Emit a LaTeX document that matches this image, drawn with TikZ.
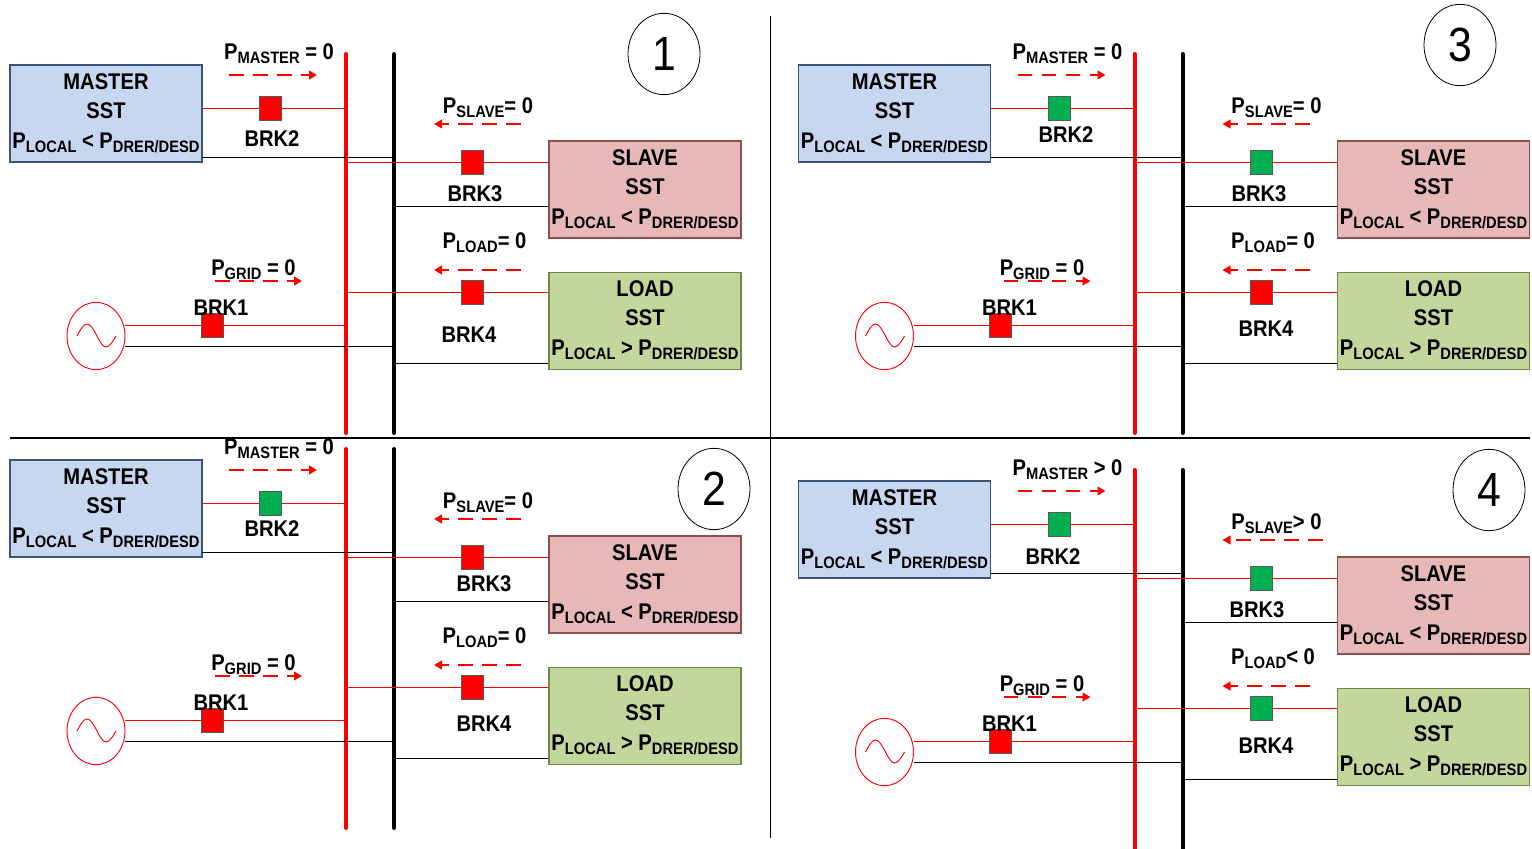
\documentclass[tikz,border=0pt]{standalone}
\usepackage{fontspec}
\setmainfont[FakeStretch=0.89]{Liberation Sans}
\usetikzlibrary{arrows.meta,positioning,shapes.geometric}
\definecolor{mstfill}{HTML}{C6D7EF}
\definecolor{mstline}{HTML}{3A5578}
\definecolor{slvfill}{HTML}{E6B8B7}
\definecolor{slvline}{HTML}{8C4F4D}
\definecolor{lodfill}{HTML}{C3D69B}
\definecolor{lodline}{HTML}{6F8A45}
\definecolor{brkred}{HTML}{FF0000}
\definecolor{brkgreen}{HTML}{00B050}
\newcommand{\pwr}[1]{P\raisebox{-3pt}{\fontsize{12.4}{14}\selectfont #1}}
\tikzset{
  sstbox/.style={rectangle,line width=0.8pt,minimum width=144pt,minimum height=72.75pt,inner sep=0pt,align=center,font=\bfseries\fontsize{17}{21.5}\selectfont},
  brk/.style={rectangle,draw=black!65,line width=0.6pt,inner sep=0pt,minimum width=16.5pt,minimum height=18pt},
  txt/.style={inner sep=0pt,font=\bfseries\fontsize{17}{20}\selectfont},
  redbus/.style={brkred,line width=3pt,line cap=round},
  blkbus/.style={black,line width=3pt,line cap=round},
  redwire/.style={brkred,line width=0.7pt},
  blkwire/.style={black,line width=0.7pt},
  flow/.style={-{Triangle[length=6pt,width=6.5pt]},brkred,line width=2.2pt,dash pattern=on 11pt off 7pt},
}
\begin{document}
\begin{tikzpicture}[x=0.75pt,y=-0.75pt]
\useasboundingbox (0,0) rectangle (1532,849);
\coordinate (vtop) at (770,16);
\coordinate (vbot) at (770,838);
\coordinate (hlft) at (10,438);
\coordinate (hrgt) at (1530,438);
\draw[black,line width=0.6pt] (vtop) -- (vbot);
\draw[black,line width=0.8pt] (hlft) -- (hrgt);
\foreach \n/\dx/\dy/\numx/\numy/\colb/\colc/\cold/\lblb/\lblc/\lbld/\mrel/\srel/\lrel/\stail in {
  {1/0/0/664/54/brkred/brkred/brkred/(272,139)/(475,194)/(469,335)/=/=/=/521},
  {2/0/395/714/94/brkgreen/brkred/brkred/(272,134)/(484,189)/(484,329)/=/=/=/521},
  {3/788.5/0/671.5/45/brkgreen/brkgreen/brkred/(277.5,135)/(470.5,194)/(477.5,329)/=/=/=/521},
  {4/788.5/416/700.5/74/brkgreen/brkgreen/brkgreen/(264.5,141)/(468.5,194)/(477.5,330)/>/>/</534.5}}
{
\begin{scope}[shift={(\dx,\dy)},name prefix=p\n-]
% buses
\coordinate (rtop) at (346,54);
\coordinate (rbot) at (346,433);
\coordinate (btop) at (394,54);
\coordinate (bbot) at (394,433);
\draw[redbus] (rtop) -- (rbot);
\draw[blkbus] (btop) -- (bbot);
% boxes
\node[sstbox,draw=mstline,fill=mstfill] (mst) at (106,113.5) {MASTER\\SST\\[1.5pt]\pwr{LOCAL} < \pwr{DRER/DESD}};
\node[sstbox,draw=slvline,fill=slvfill] (slv) at (645,189.5) {SLAVE\\SST\\[1.5pt]\pwr{LOCAL} < \pwr{DRER/DESD}};
\node[sstbox,draw=lodline,fill=lodfill,below=24.75pt of slv] (lod) {LOAD\\SST\\[1.5pt]\pwr{LOCAL} > \pwr{DRER/DESD}};
% source
\node[ellipse,draw=brkred,line width=0.7pt,inner sep=0pt,minimum width=43.5pt,minimum height=50.5pt] (gen) at (96,336) {};
\draw[brkred,line width=0.7pt] (77,336) sin (87,324) cos (97,336) sin (106,347) cos (116,336);
% breakers
\node[brk,fill=brkred] (brk1) at (212,325) {};
\node[brk,fill=\colb] (brk2) at (270.5,108) {};
\node[brk,fill=\colc] (brk3) at (472.5,162) {};
\node[brk,fill=\cold] (brk4) at (472.5,292) {};
\node[txt] (lbl1) at (221,308) {BRK1};
\node[txt] (lbl2) at \lblb {BRK2};
\node[txt] (lbl3) at \lblc {BRK3};
\node[txt] (lbl4) at \lbld {BRK4};
% wires
\coordinate (mblk) at (202,157);
\coordinate (sblk) at (548,206);
\coordinate (lblk) at (548,363);
\coordinate (gblk) at (125,346);
\draw[redwire] (mst.east |- brk2) -- (brk2);
\draw[redwire] (brk2) -- (brk2 -| rtop);
\draw[redwire] (brk3 -| rtop) -- (brk3);
\draw[redwire] (brk3) -- (brk3 -| slv.west);
\draw[redwire] (brk4 -| rtop) -- (brk4);
\draw[redwire] (brk4) -- (brk4 -| lod.west);
\draw[redwire] (gen.east |- brk1) -- (brk1);
\draw[redwire] (brk1) -- (brk1 -| rtop);
\draw[blkwire] (mblk) -- (mblk -| btop);
\draw[blkwire] (gblk) -- (gblk -| btop);
\draw[blkwire] (sblk) -- (sblk -| btop);
\draw[blkwire] (lblk) -- (lblk -| btop);
% flows
\node[txt] (pmst) at (279,54) {\pwr{MASTER} \mrel{} 0};
\node[txt] (pslv) at (488,108) {\pwr{SLAVE}\srel{} 0};
\node[txt] (plod) at (484.5,243) {\pwr{LOAD}\lrel{} 0};
\node[txt] (pgrd) at (253.5,270) {\pwr{GRID} = 0};
\coordinate (fm1) at (229,75);
\coordinate (fm2) at (317,75);
\coordinate (fs1) at (\stail,124);
\coordinate (fs2) at (434,124);
\coordinate (fl1) at (521,270);
\coordinate (fl2) at (434,270);
\coordinate (fg1) at (215,281);
\coordinate (fg2) at (302,281);
\draw[flow] (fm1) -- (fm2);
\draw[flow] (fs1) -- (fs2);
\draw[flow] (fl1) -- (fl2);
\draw[flow] (fg1) -- (fg2);
% panel number
\node[ellipse,draw=black,line width=0.6pt,inner sep=0pt,minimum width=54pt,minimum height=61pt,font=\fontsize{36}{36}\selectfont] (num) at (\numx,\numy) {\n};
\end{scope}
}
\end{tikzpicture}
\end{document}
